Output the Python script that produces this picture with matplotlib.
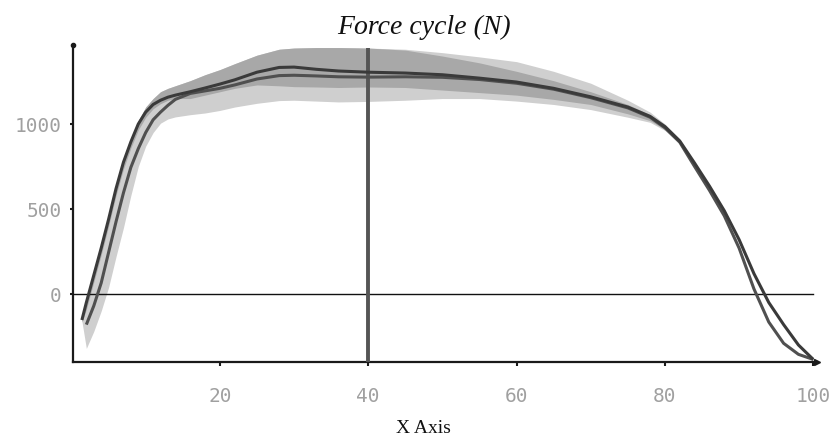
import numpy as np
import matplotlib
matplotlib.use("Agg")
import matplotlib.pyplot as plt

# ---- data ----
x = [1.4, 2, 3, 4, 5, 6, 7, 8, 9, 10, 11, 12, 13, 14, 16, 18, 20, 22, 25, 28, 30,
     33, 36, 40, 45, 50, 55, 60, 65, 70, 75, 78, 80, 82, 84, 86, 88, 90, 92, 94,
     96, 98, 100]

line_a = [-153, -50, 110, 270, 440, 620, 775, 895, 1000, 1070, 1115, 1140, 1158,
          1170, 1190, 1212, 1235, 1260, 1305, 1333, 1335, 1322, 1312, 1305, 1300,
          1290, 1270, 1247, 1210, 1160, 1100, 1045, 985, 900, 770, 635, 490, 320,
          120, -50, -180, -300, -385]

line_b = [np.nan, -180, -70, 65, 245, 425, 595, 745, 855, 950, 1025, 1070, 1110,
          1145, 1180, 1195, 1210, 1230, 1265, 1285, 1287, 1283, 1278, 1276, 1278,
          1275, 1262, 1240, 1205, 1155, 1095, 1040, 978, 893, 750, 610, 460, 270,
          30, -165, -290, -355, -385]

band_x = [1.4, 2, 3, 4, 5, 6, 7, 8, 9, 10, 11, 12, 13, 14, 16, 18, 20, 22, 25, 28,
          30, 33, 36, 40, 45, 50, 55, 60, 65, 70, 75, 78, 80, 82, 84]

band_light_upper = [-140, -30, 130, 300, 470, 650, 800, 920, 1020, 1100, 1150, 1190,
                    1210, 1225, 1255, 1290, 1320, 1355, 1405, 1440, 1447, 1450, 1450,
                    1447, 1440, 1420, 1395, 1367, 1310, 1240, 1140, 1070, 1000, 912,
                    775]
band_light_lower = [-160, -320, -220, -100, 40, 220, 390, 580, 750, 870, 950, 1005,
                    1030, 1042, 1055, 1065, 1080, 1100, 1122, 1138, 1140, 1135, 1130,
                    1133, 1140, 1150, 1150, 1135, 1115, 1085, 1040, 1010, 962, 885,
                    760]

band_dark_upper = [-140, -35, 125, 290, 460, 640, 795, 915, 1020, 1100, 1150, 1190,
                   1210, 1225, 1255, 1290, 1320, 1355, 1405, 1440, 1447, 1450, 1450,
                   1447, 1435, 1400, 1360, 1310, 1255, 1190, 1115, 1055, 992, 906,
                   772]
band_dark_lower = [-165, -90, 70, 230, 400, 580, 735, 860, 965, 1040, 1090, 1120,
                   1140, 1150, 1150, 1170, 1190, 1210, 1230, 1225, 1220, 1218, 1215,
                   1218, 1215, 1200, 1185, 1170, 1145, 1115, 1060, 1020, 968, 888,
                   762]

marker_x = 40
marker_top = 1450
xticks = [20, 40, 60, 80, 100]
yticks = [0, 500, 1000]
title = "Force cycle (N)"
xlabel = "X Axis"

# ---- figure ----
fig = plt.figure(figsize=(8.39, 4.40), dpi=100)
ax = fig.add_axes([73 / 839, 78 / 440, (817 - 73) / 839, (362 - 45) / 440])
ax.set_xlim(0.2, 100.5)
ax.set_ylim(-400, 1465)

ax.fill_between(band_x, band_light_lower, band_light_upper, color="#cfcfcf",
                lw=0, zorder=1)
ax.fill_between(band_x, band_dark_lower, band_dark_upper, color="#a8a8a8",
                lw=0, zorder=2)

ax.plot([0.2, 100], [0, 0], color="#111111", lw=1.0, zorder=3)
ax.plot([marker_x, marker_x], [-400, marker_top], color="#555555", lw=2.8,
        zorder=4, solid_capstyle="butt")

ax.plot(x, line_b, color="#505050", lw=2.2, zorder=5, solid_capstyle="butt",
        solid_joinstyle="round")
ax.plot(x, line_a, color="#3a3a3a", lw=2.2, zorder=6, solid_capstyle="butt",
        solid_joinstyle="round")

for s in ["top", "right"]:
    ax.spines[s].set_visible(False)
for s in ["left", "bottom"]:
    ax.spines[s].set_linewidth(1.6)
    ax.spines[s].set_color("#1a1a1a")

ax.plot([0], [1], marker="o", ms=3, color="#1a1a1a", transform=ax.transAxes,
        clip_on=False, zorder=7)
ax.plot([1], [0], marker=">", ms=4, color="#1a1a1a", transform=ax.transAxes,
        clip_on=False, zorder=7)

ax.set_xticks(xticks)
ax.set_xticklabels([str(v) for v in xticks])
ax.set_yticks(yticks)
ax.set_yticklabels([str(v) for v in yticks])
ax.tick_params(axis="x", length=3, width=1.5, color="#1a1a1a", pad=15,
               labelcolor="#a0a0a0", labelsize=14)
ax.tick_params(axis="y", length=2, width=1.5, color="#1a1a1a", pad=6,
               labelcolor="#a0a0a0", labelsize=14)
for lab in ax.get_xticklabels() + ax.get_yticklabels():
    lab.set_family("DejaVu Sans Mono")

fig.text(424 / 839, 1 - 27 / 440, title, ha="center", va="center",
         family="Liberation Serif", style="italic", fontsize=20, color="#111111")
fig.text(423 / 839, 1 - 428 / 440, xlabel, ha="center", va="center",
         family="Liberation Serif", fontsize=14, color="#111111")

fig.savefig("out.png", dpi=100)
